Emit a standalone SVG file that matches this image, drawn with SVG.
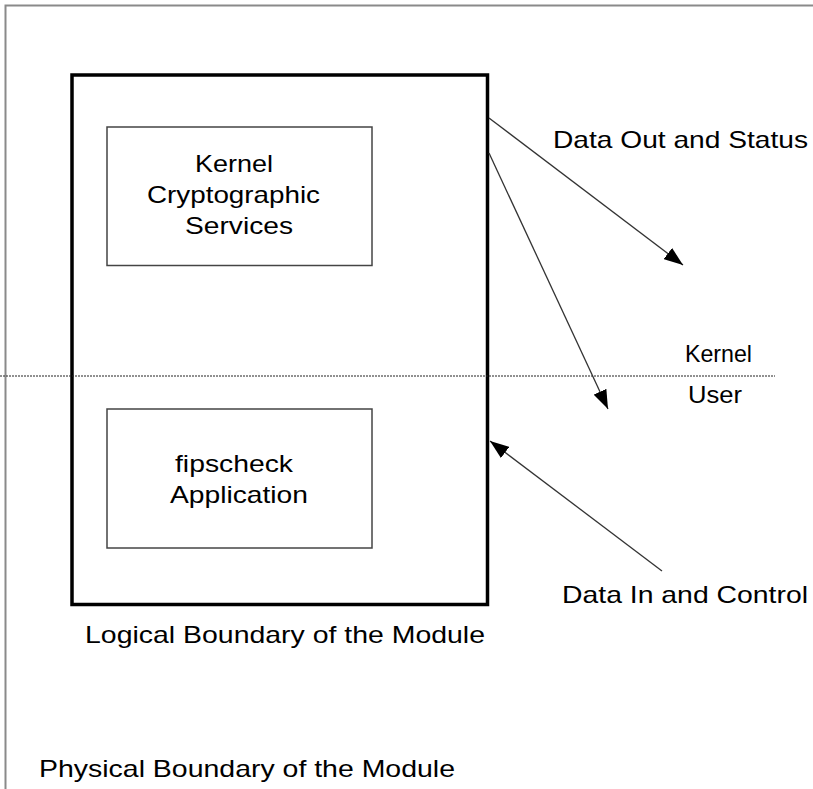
<svg xmlns="http://www.w3.org/2000/svg" width="813" height="789" viewBox="0 0 813 789">
  <style>
    .lbl { font-family: "Liberation Sans", Arial, sans-serif; font-size: 24px; fill: #000; }
    .phys { fill: none; stroke: #8a8a8a; stroke-width: 2; }
    .logical { fill: none; stroke: #000; stroke-width: 3.5; }
    .box { fill: #fff; stroke: #444; stroke-width: 1.5; }
    .sep { stroke: #222; stroke-width: 1; stroke-dasharray: 2 1; }
    .flow { stroke: #333; stroke-width: 1.3; fill: none; marker-end: url(#arrow); }
  </style>
  <defs>
    <marker id="arrow" markerUnits="userSpaceOnUse" markerWidth="20" markerHeight="14" refX="19" refY="7" orient="auto">
      <path d="M0,0 L19,7 L0,14 Z" fill="#000"/>
    </marker>
  </defs>
  <rect width="813" height="789" fill="#fff"/>

  <!-- physical boundary (open to the right and bottom) -->
  <g id="physical-boundary">
    <path class="phys" d="M813,5.5 H5.5 V789"/>
    <text class="lbl" x="39" y="777" textLength="416" lengthAdjust="spacingAndGlyphs">Physical Boundary of the Module</text>
  </g>

  <!-- logical boundary -->
  <g id="logical-boundary">
    <rect class="logical" x="72" y="75" width="415.5" height="529.5"/>
    <text class="lbl" x="85" y="643" textLength="400" lengthAdjust="spacingAndGlyphs">Logical Boundary of the Module</text>
  </g>

  <!-- kernel / user separator -->
  <g id="separator">
    <line class="sep" x1="0" y1="376" x2="775" y2="376"/>
    <text class="lbl" x="685" y="362" textLength="67" lengthAdjust="spacingAndGlyphs">Kernel</text>
    <text class="lbl" x="688" y="403" textLength="54" lengthAdjust="spacingAndGlyphs">User</text>
  </g>

  <g id="kernel-crypto">
    <rect class="box" x="107" y="127" width="265" height="138.5"/>
    <text class="lbl" x="195" y="172" textLength="78" lengthAdjust="spacingAndGlyphs">Kernel</text>
    <text class="lbl" x="147" y="203" textLength="173" lengthAdjust="spacingAndGlyphs">Cryptographic</text>
    <text class="lbl" x="185" y="234" textLength="108" lengthAdjust="spacingAndGlyphs">Services</text>
  </g>

  <g id="fipscheck">
    <rect class="box" x="107" y="409" width="265" height="139"/>
    <text class="lbl" x="175" y="472" textLength="118" lengthAdjust="spacingAndGlyphs">fipscheck</text>
    <text class="lbl" x="170" y="503" textLength="138" lengthAdjust="spacingAndGlyphs">Application</text>
  </g>

  <g id="data-out">
    <text class="lbl" x="553" y="148" textLength="255" lengthAdjust="spacingAndGlyphs">Data Out and Status</text>
  </g>

  <g id="data-in">
    <text class="lbl" x="562" y="603" textLength="246" lengthAdjust="spacingAndGlyphs">Data In and Control</text>
  </g>

  <!-- connectors -->
  <g id="connectors">
    <line class="flow" x1="489" y1="118" x2="683" y2="265"/>
    <line class="flow" x1="489" y1="153" x2="608" y2="409"/>
    <line class="flow" x1="662" y1="571" x2="490" y2="441"/>
  </g>
</svg>
